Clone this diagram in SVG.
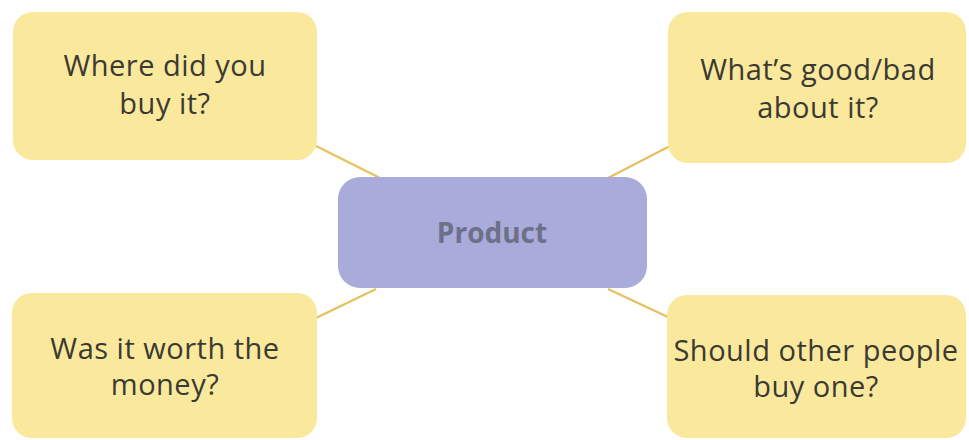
<svg xmlns="http://www.w3.org/2000/svg" width="969" height="440" viewBox="0 0 969 440">
<style>
.leaf{fill:#fae89d;}
.hub{fill:#a9abda;}
.t{font-family:"Open Sans","Liberation Sans",sans-serif;font-size:29px;letter-spacing:0.5px;fill:#3a3a32;text-anchor:middle;}
.h{font-family:"Open Sans","Liberation Sans",sans-serif;font-size:28px;font-weight:bold;fill:#6d7088;text-anchor:middle;}
.c{stroke:#e6bf5c;stroke-width:2;fill:none;}
</style>
<rect width="969" height="440" fill="#ffffff"/>
<g id="connectors">
<line class="c" x1="316" y1="146" x2="380" y2="178"/>
<line class="c" x1="670" y1="146" x2="608" y2="178"/>
<line class="c" x1="316" y1="318" x2="376" y2="289"/>
<line class="c" x1="608" y1="289" x2="670" y2="318"/>
</g>
<g id="n-product">
<rect class="hub" x="338" y="177" width="309" height="111" rx="22"/>
<text class="h" x="492" y="243">Product</text>
</g>
<g id="n-where">
<rect class="leaf" x="13" y="12" width="304" height="148" rx="20"/>
<text class="t" x="165" y="76">Where did you</text>
<text class="t" x="165" y="114">buy it?</text>
</g>
<g id="n-good">
<rect class="leaf" x="668" y="12" width="298" height="151" rx="20"/>
<text class="t" x="818" y="80">What’s good/bad</text>
<text class="t" x="818" y="118">about it?</text>
</g>
<g id="n-worth">
<rect class="leaf" x="12" y="293" width="305" height="145" rx="20"/>
<text class="t" x="165" y="359">Was it worth the</text>
<text class="t" x="165" y="395">money?</text>
</g>
<g id="n-should">
<rect class="leaf" x="667" y="295" width="299" height="143" rx="20"/>
<text class="t" x="816" y="361">Should other people</text>
<text class="t" x="816" y="397">buy one?</text>
</g>
</svg>
